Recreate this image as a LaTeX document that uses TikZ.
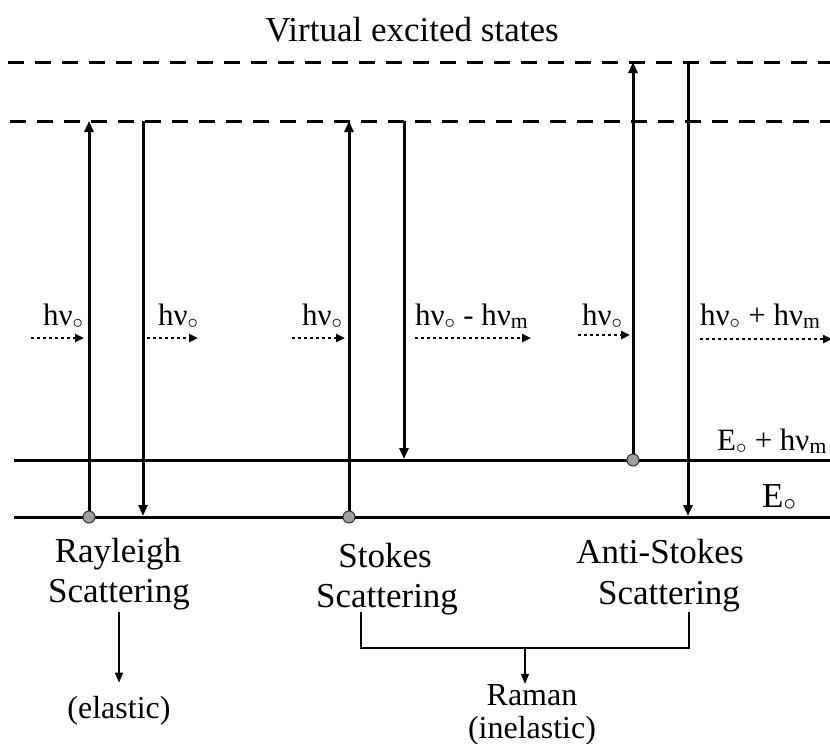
\documentclass[tikz,border=0pt]{standalone}
\usepackage{fontspec}
\setmainfont{Liberation Serif}
\usetikzlibrary{arrows.meta}
\newcommand{\hvo}{hν\ensuremath{{}_{\circ}}}
\newcommand{\hvmm}{hν\textsubscript{m}}
\newcommand{\Eo}{E\ensuremath{{}_{\circ}}}
\begin{document}
\begin{tikzpicture}[x=1pt,y=-1pt,
  big/.style={font=\fontsize{35}{40}\selectfont, inner sep=0pt},
  mid/.style={font=\fontsize{32}{34}\selectfont, inner sep=0pt},
  small/.style={font=\fontsize{31}{33}\selectfont, inner sep=0pt},
  level/.style={line width=3pt},
  virt/.style={line width=3pt, dash pattern=on 16pt off 11pt},
  trans/.style={line width=3pt, -{Triangle[length=11pt,width=9pt]}},
  photon/.style={line width=2.8pt, dash pattern=on 3pt off 3pt, -{Triangle[length=9pt,width=8pt]}},
  dotnode/.style={circle, fill=gray!75, draw=gray!40!black, line width=1pt, minimum size=12pt, inner sep=0pt},
  thinline/.style={line width=1.5pt},
  thinarrow/.style={line width=1.5pt, -{Triangle[length=10pt,width=8pt]}}]
\useasboundingbox (0,0) rectangle (830,744);
\clip (0,0) rectangle (830,744);
\fill[white] (0,0) rectangle (830,744);

% title
\node[big, anchor=base] (title) at (412,41) {Virtual excited states};

% virtual levels
\coordinate (v1a) at (8,62);   \coordinate (v1b) at (840,62);
\coordinate (v2a) at (10,121); \coordinate (v2b) at (840,121);
\draw[virt] (v1a) -- (v1b);
\draw[virt] (v2a) -- (v2b);

% real levels
\coordinate (e1a) at (14,460); \coordinate (e1b) at (840,460);
\coordinate (e0a) at (14,517); \coordinate (e0b) at (840,517);
\draw[level] (e1a) -- (e1b);
\draw[level] (e0a) -- (e0b);

% Rayleigh
\coordinate (r0) at (89,517);  \coordinate (r1) at (89,121);
\coordinate (r2) at (143,121); \coordinate (r3) at (143,516);
\draw[trans] (r0) -- (r1);
\draw[trans] (r2) -- (r3);
\node[dotnode] (rdot) at (r0) {};

% Stokes
\coordinate (s0) at (349,517); \coordinate (s1) at (349,121);
\coordinate (s2) at (404,121); \coordinate (s3) at (404,459);
\draw[trans] (s0) -- (s1);
\draw[trans] (s2) -- (s3);
\node[dotnode] (sdot) at (s0) {};

% Anti-Stokes
\coordinate (a0) at (633,460); \coordinate (a1) at (633,62);
\coordinate (a2) at (688,62);  \coordinate (a3) at (688,516);
\draw[trans] (a0) -- (a1);
\draw[trans] (a2) -- (a3);
\node[dotnode] (adot) at (a0) {};

% photon labels
\node[small, anchor=base west] (p1) at (43,325) {\hvo};
\node[small, anchor=base west] (p2) at (158,325) {\hvo};
\node[small, anchor=base west] (p3) at (302,325) {\hvo};
\node[small, anchor=base west] (p4) at (415,325) {\hvo\ - \hvmm};
\node[small, anchor=base west] (p5) at (582,325) {\hvo};
\node[small, anchor=base west] (p6) at (700,325) {\hvo\ + \hvmm};

% photon arrows
\coordinate (d1a) at (31,338);  \coordinate (d1b) at (84,338);
\coordinate (d2a) at (147,338); \coordinate (d2b) at (198,338);
\coordinate (d3a) at (292,338); \coordinate (d3b) at (345,338);
\coordinate (d4a) at (415,338); \coordinate (d4b) at (531,338);
\coordinate (d5a) at (578,335); \coordinate (d5b) at (630,335);
\coordinate (d6a) at (700,339); \coordinate (d6b) at (832,339);
\draw[photon] (d1a) -- (d1b);
\draw[photon] (d2a) -- (d2b);
\draw[photon] (d3a) -- (d3b);
\draw[photon] (d4a) -- (d4b);
\draw[photon] (d5a) -- (d5b);
\draw[photon] (d6a) -- (d6b);

% level labels
\node[font=\fontsize{31}{33}\selectfont, inner sep=0pt, anchor=base west] (lE1) at (717,450) {\Eo\ + \hvmm};
\node[big, anchor=base west] (lE0) at (762,507) {\Eo};

% bottom labels
\node[big, anchor=base] (ray1) at (118,562) {Rayleigh};
\node[big, anchor=base, inner ysep=2pt] (ray2) at (119,602) {Scattering};
\node[big, anchor=base] (stk1) at (385,567) {Stokes};
\node[big, anchor=base] (stk2) at (387,607) {Scattering};
\node[big, anchor=base] (ant1) at (660,563) {Anti-Stokes};
\node[big, anchor=base] (ant2) at (669,604) {Scattering};

\node[mid, anchor=base] (elastic) at (119,718) {(elastic)};
\draw[thinarrow, shorten >=13pt] (ray2.south) -- (elastic.north);

% Raman bracket
\coordinate (bl) at (361,612);
\coordinate (blc) at (361,648);
\coordinate (bm) at (525,648);
\coordinate (brc) at (689,648);
\coordinate (br) at (689,612);
\draw[thinline] (bl) -- (blc) -- (brc) -- (br);
\node[mid, anchor=base] (raman) at (532,705) {Raman};
\node[mid, anchor=base] (inel) at (532,738) {(inelastic)};
\draw[thinarrow] (bm) -- (bm |- raman.north);
\end{tikzpicture}
\end{document}
